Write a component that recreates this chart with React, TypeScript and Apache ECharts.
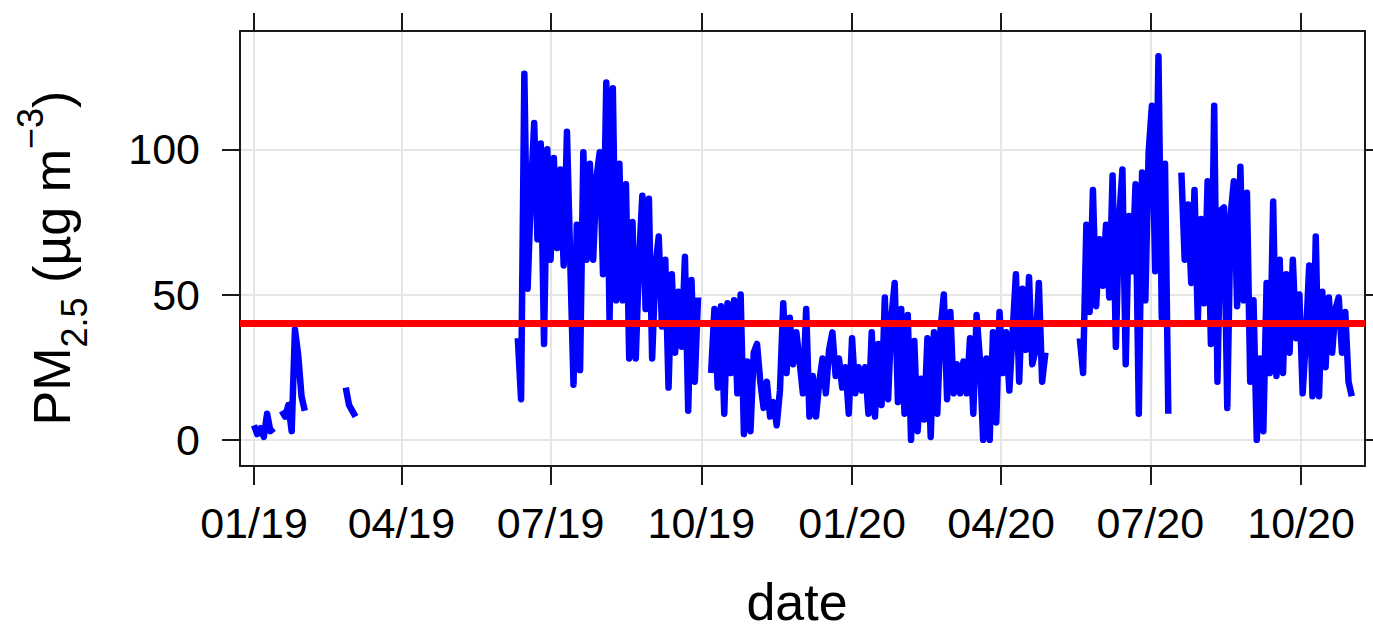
import React, { useEffect, useRef } from 'react';
import * as echarts from 'echarts';

// ---- data (one value every 2 days) ----
const stepDays = 2;

const seg1aStart = '2019-01-01';
const seg1aValues = [5, 2, 4, 1, 9, 3, 4];

const seg1bStart = '2019-01-18';
const seg1bValues = [10, 8, 12, 3, 38, 29, 15, 10];

const seg1cStart = '2019-02-26';
const seg1cValues = [18, 12, 10, 8];

const seg2Start = '2019-06-11';
const seg2Values = [
  35, 14, 126, 52, 85, 109, 69, 102, 33, 100,
  62, 97, 66, 93, 60, 106, 62, 19, 74, 24,
  99, 62, 95, 62, 90, 99, 57, 123, 41, 121,
  48, 95, 48, 88, 28, 75, 28, 62, 84, 45,
  83, 28, 59, 70, 39, 62, 18, 57, 30, 51,
  32, 63, 10, 55, 20, 49, null, null, null, 23,
  45, 18, 46, 9, 47, 23, 48, 16, 50, 2,
  27, 3, 30, 33, 20, 11, 20, 8, 13, 5,
  17, 47, 23, 42, 26, 37, 27, 16, 45, 8,
  22, 8, 20, 28, 16, 31, 37, 22, 28, 18,
  25, 9, 35, 16, 25, 17, 25, 9, 37, 8,
  33, 12, 49, 14, 42, 54, 13, 45, 9, 43,
  0, 34, 3, 21, 7, 35, 1, 37, 9, 38,
  50, 14, 44, 16, 26, 16, 27, 16, 35, 9,
  43, 28, 0, 28, 0, 37, 6, 44, 23, 37,
  17, 37, 57, 20, 52, 31, 56, 26, 31, 54,
  20, 30,
];

const seg3Start = '2020-05-19';
const seg3Values = [
  35, 23, 74, 44, 86, 46, 69, 53, 74, 49,
  91, 32, 76, 93, 26, 77, 58, 88, 9, 92,
  48, 99, 115, 58, 132, 42, 95, 9, null, null,
  null, 92, 62, 81, 54, 86, 41, 76, 47, 89,
  33, 115, 20, 79, 80, 11, 77, 89, 46, 94,
  48, 85, 20, 48, 0, 28, 3, 54, 23, 82,
  22, 62, 23, 57, 30, 62, 35, 50, 16, 35,
  60, 15, 70, 15, 51, 25, 49, 30, 45, 49,
  30, 44, 20, 15,
];

const limitValue = 40;

const xTickDates = [
  '2019-01-01', '2019-04-01', '2019-07-01', '2019-10-01',
  '2020-01-01', '2020-04-01', '2020-07-01', '2020-10-01',
];
const xTickLabels = ['01/19', '04/19', '07/19', '10/19', '01/20', '04/20', '07/20', '10/20'];
const yTicks = [0, 50, 100];

const originDate = '2019-01-01';
const xMinDays = -8.54;
const xMaxDays = 678.05;
const yMin = -9;
const yMax = 140.7;

const FONT = '"Liberation Sans", Arial, Helvetica, sans-serif';

// days elapsed since originDate
function toDay(s: string, offsetDays = 0): number {
  const [y, m, d] = s.split('-').map(Number);
  const [oy, om, od] = originDate.split('-').map(Number);
  return (Date.UTC(y, m - 1, d + offsetDays) - Date.UTC(oy, om - 1, od)) / 86400000;
}

function buildData() {
  const segs: [string, (number | null)[]][] = [
    [seg1aStart, seg1aValues],
    [seg1bStart, seg1bValues],
    [seg1cStart, seg1cValues],
    [seg2Start, seg2Values],
    [seg3Start, seg3Values],
  ];
  const out: [number, number | null][] = [];
  segs.forEach(([start, vals]) => {
    vals.forEach((v, i) => out.push([toDay(start, i * stepDays), v]));
    out.push([toDay(start, vals.length * stepDays), null]);
  });
  return out;
}

export default function App() {
  const ref = useRef<HTMLDivElement>(null);

  useEffect(() => {
    if (!ref.current) return;
    const chart = echarts.init(ref.current, undefined, { renderer: 'svg' });
    const xTicks = xTickDates.map((d) => toDay(d));
    const axisColor = '#1a1a1a';
    const gridColor = '#e6e6e6';

    const option = {
      animation: false,
      backgroundColor: '#ffffff',
      grid: { left: 240, right: 8, top: 31, bottom: 164, containLabel: false },
      xAxis: [
        {
          type: 'value',
          min: xMinDays,
          max: xMaxDays,
          position: 'bottom',
          axisLine: { show: true, onZero: false, lineStyle: { color: axisColor, width: 2 } },
          axisTick: { show: true, length: 19, customValues: xTicks, lineStyle: { color: axisColor, width: 2 } },
          axisLabel: {
            show: true,
            customValues: xTicks,
            formatter: (v: number) => {
              const i = xTicks.findIndex((t) => Math.abs(t - v) < 0.01);
              return i >= 0 ? xTickLabels[i] : '';
            },
            fontSize: 43,
            fontFamily: FONT,
            color: '#000',
            margin: 35,
          },
          splitLine: { show: true, lineStyle: { color: gridColor, width: 2 } },
        },
        {
          type: 'value',
          min: xMinDays,
          max: xMaxDays,
          position: 'top',
          axisLine: { show: true, onZero: false, lineStyle: { color: axisColor, width: 2 } },
          axisTick: { show: true, length: 18, customValues: xTicks, lineStyle: { color: axisColor, width: 2 } },
          axisLabel: { show: false },
          splitLine: { show: false },
        },
      ],
      yAxis: [
        {
          type: 'value',
          min: yMin,
          max: yMax,
          position: 'left',
          axisLine: { show: true, onZero: false, lineStyle: { color: axisColor, width: 2 } },
          axisTick: { show: true, length: 18, customValues: yTicks, lineStyle: { color: axisColor, width: 2 } },
          axisLabel: {
            show: true,
            customValues: yTicks,
            fontSize: 43,
            fontFamily: FONT,
            color: '#000',
            margin: 40,
          },
          splitLine: { show: true, lineStyle: { color: gridColor, width: 2 } },
        },
        {
          type: 'value',
          min: yMin,
          max: yMax,
          position: 'right',
          axisLine: { show: true, onZero: false, lineStyle: { color: axisColor, width: 2 } },
          axisTick: { show: true, length: 8, customValues: yTicks, lineStyle: { color: axisColor, width: 2 } },
          axisLabel: { show: false },
          splitLine: { show: false },
        },
      ],
      series: [
        {
          type: 'line',
          xAxisIndex: 0,
          yAxisIndex: 0,
          data: buildData(),
          showSymbol: false,
          symbol: 'none',
          connectNulls: false,
          silent: true,
          lineStyle: { color: '#0000ff', width: 6.5, join: 'round' },
          z: 2,
          markLine: {
            silent: true,
            symbol: ['none', 'none'],
            label: { show: false },
            lineStyle: { color: '#ff0000', width: 7, type: 'solid' },
            data: [{ yAxis: limitValue }],
          },
        },
      ],
      graphic: [
        {
          type: 'text',
          x: 52,
          y: 258,
          rotation: Math.PI / 2,
          silent: true,
          style: {
            text: '{m|PM}{s|2.5}{m| (µg m}{p|−3}{m|)}',
            align: 'center',
            verticalAlign: 'middle',
            fill: '#000',
            rich: {
              m: { fontSize: 52, lineHeight: 80, fontFamily: FONT, fill: '#000' },
              s: { fontSize: 36, lineHeight: 49, verticalAlign: 'bottom', fontFamily: FONT, fill: '#000' },
              p: { fontSize: 36, lineHeight: 29, verticalAlign: 'top', fontFamily: FONT, fill: '#000' },
            },
          },
        },
        {
          type: 'text',
          x: 797,
          y: 602,
          silent: true,
          style: {
            text: 'date',
            fontSize: 52,
            fontFamily: FONT,
            fill: '#000',
            align: 'center',
            verticalAlign: 'middle',
          },
        },
      ],
    };

    chart.setOption(option as any);
    return () => chart.dispose();
  }, []);

  return (
    <div
      ref={ref}
      style={{ position: 'fixed', left: 0, top: 0, width: 1373, height: 630, background: '#fff' }}
    />
  );
}
